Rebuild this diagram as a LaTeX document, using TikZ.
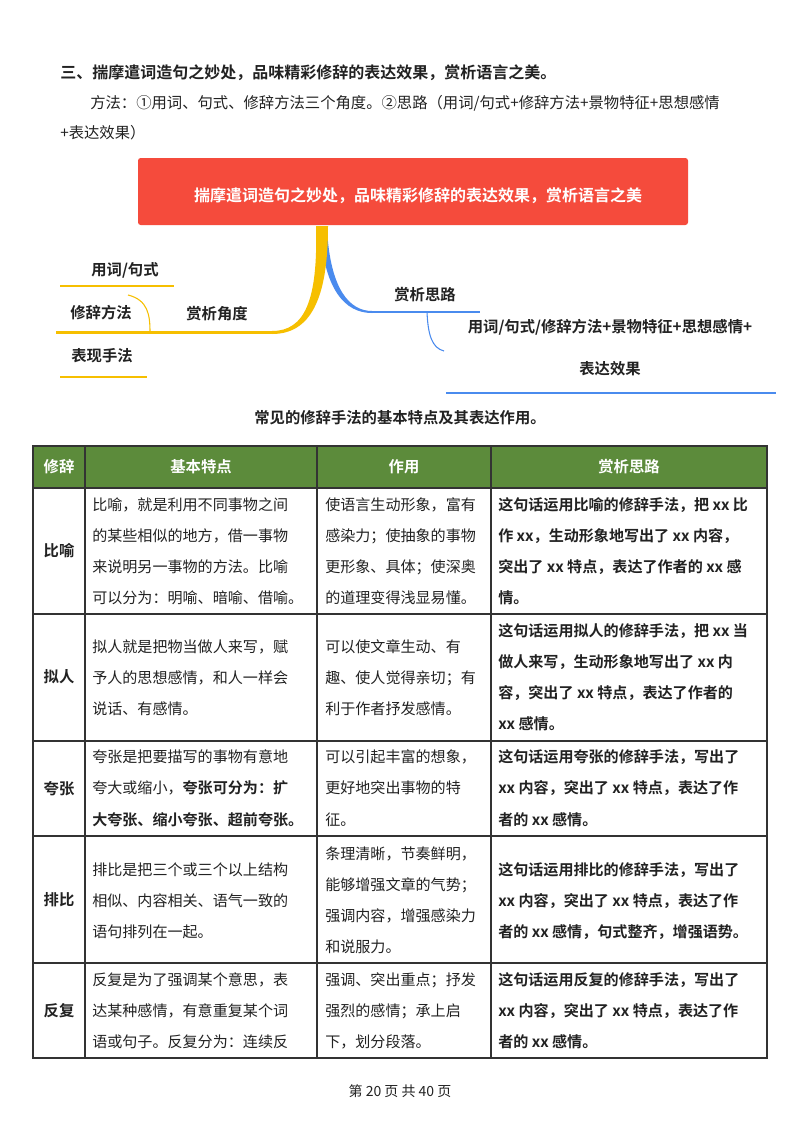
\documentclass[tikz,border=0pt]{standalone}
\usepackage{fontspec}
\setmainfont{Noto Sans CJK SC}[BoldFont={Noto Sans CJK SC Bold}]
\definecolor{mred}{HTML}{F54B3C}
\definecolor{myel}{HTML}{F6BF00}
\definecolor{mblue}{HTML}{4A8BEE}
\definecolor{hgreen}{HTML}{5C8B3B}
\definecolor{txt}{HTML}{222222}
\tikzset{
 lt/.style={anchor=west,inner sep=0pt,font=\fontsize{11.3}{12}\selectfont,text=txt},
 bt/.style={lt,font=\fontsize{11.3}{12}\selectfont\bfseries},
 mm/.style={inner sep=0pt,font=\fontsize{11.5}{12}\selectfont\bfseries,text=txt},
 hd/.style={inner sep=0pt,font=\fontsize{11.5}{12}\selectfont\bfseries,text=white},
 grid/.style={draw=black!80,line width=0.8pt},
}
\newcommand\Ln[4][lt]{\node[#1] (#2) at #3 {#4};}
\begin{document}
\begin{tikzpicture}[x=0.75pt,y=-0.75pt]
\useasboundingbox (0,0) rectangle (800,1132);
\fill[white] (0,0) rectangle (800,1132);
% top text
\node[bt,font=\fontsize{12}{12}\selectfont\bfseries] (h1) at (60,73) {三、揣摩遣词造句之妙处，品味精彩修辞的表达效果，赏析语言之美。};
\node[lt,font=\fontsize{11.5}{12}\selectfont] (h2) at (90,103) {方法：①用词、句式、修辞方法三个角度。②思路（用词/句式+修辞方法+景物特征+思想感情};
\node[lt,font=\fontsize{11.5}{12}\selectfont] (h3) at (60,133) {+表达效果）};
% mind map
\fill[mred,rounded corners=2pt] (138,158) rectangle (688,225);
\node[hd,font=\fontsize{12}{12}\selectfont\bfseries] (root) at (418,196) {揣摩遣词造句之妙处，品味精彩修辞的表达效果，赏析语言之美};
\fill[mblue] (320,228) .. controls (324,290) and (345,313) .. (372,313) -- (372,311) .. controls (350,311) and (330,290) .. (327,228) -- cycle;
\coordinate (b0) at (372,312); \coordinate (b1) at (480,312);
\draw[mblue,line width=1.5pt] (b0) -- (b1);
\node[mm] (sx) at (425,295) {赏析思路};
\coordinate (c0) at (427,312); \coordinate (c1) at (444,351);
\draw[mblue,line width=0.8pt] (c0) .. controls (428,335) and (432,348) .. (c1);
\node[mm] (sx1) at (610,327) {用词/句式/修辞方法+景物特征+思想感情+};
\node[mm] (sx2) at (610,369) {表达效果};
\draw[mblue,line width=1.5pt] (446,393) -- (776,393);
\fill[myel] (316,226) .. controls (318,300) and (305,331) .. (272,331) -- (272,334) .. controls (310,334) and (328,300) .. (328,226) -- cycle;
\coordinate (y0) at (273,332.5); \coordinate (y1) at (56,332.5);
\draw[myel,line width=2pt] (y0) -- (y1);
\node[mm] (jd) at (217,314) {赏析角度};
\node[mm] (y1t) at (125,270) {用词/句式};
\draw[myel,line width=2pt] (60,286) -- (174,286);
\node[mm] (y2t) at (101,313) {修辞方法};
\coordinate (k0) at (128,295); \coordinate (k1) at (150,332);
\draw[myel,line width=0.8pt] (k0) .. controls (148,300) and (150,315) .. (k1);
\node[mm] (y3t) at (102,356) {表现手法};
\draw[myel,line width=2pt] (60,377) -- (147,377);
% table title
\node[mm,font=\fontsize{11.5}{12}\selectfont\bfseries] (tt) at (400,418) {常见的修辞手法的基本特点及其表达作用。};
% table
\fill[hgreen] (33,446) rectangle (767,488);
\draw[grid] (33,446) rectangle (767,1058);
\foreach \yy in {488,614,741,836,963} \draw[grid] (33,\yy) -- (767,\yy);
\foreach \xx in {85,317,491} \draw[grid] (\xx,446) -- (\xx,1058);
\node[hd] (c1h) at (59,467) {修辞};
\node[hd] (c2h) at (201,467) {基本特点};
\node[hd] (c3h) at (404,467) {作用};
\node[hd] (c4h) at (629,467) {赏析思路};
\node[mm] (r1) at (59,551) {比喻};
\node[mm] (r2) at (59,677) {拟人};
\node[mm] (r3) at (59,789) {夸张};
\node[mm] (r4) at (59,900) {排比};
\node[mm] (r5) at (59,1011) {反复};
% row 1
\Ln{a11}{(92,505)}{比喻，就是利用不同事物之间}
\Ln{a12}{(92,536)}{的某些相似的地方，借一事物}
\Ln{a13}{(92,567)}{来说明另一事物的方法。比喻}
\Ln{a14}{(92,598)}{可以分为：明喻、暗喻、借喻。}
\Ln{b11}{(325,505)}{使语言生动形象，富有}
\Ln{b12}{(325,536)}{感染力；使抽象的事物}
\Ln{b13}{(325,567)}{更形象、具体；使深奥}
\Ln{b14}{(325,598)}{的道理变得浅显易懂。}
\Ln[bt]{c11}{(498,505)}{这句话运用比喻的修辞手法，把 xx 比}
\Ln[bt]{c12}{(498,536)}{作 xx，生动形象地写出了 xx 内容，}
\Ln[bt]{c13}{(498,567)}{突出了 xx 特点，表达了作者的 xx 感}
\Ln[bt]{c14}{(498,598)}{情。}
% row 2
\Ln{a21}{(92,647)}{拟人就是把物当做人来写，赋}
\Ln{a22}{(92,678)}{予人的思想感情，和人一样会}
\Ln{a23}{(92,709)}{说话、有感情。}
\Ln{b21}{(325,647)}{可以使文章生动、有}
\Ln{b22}{(325,678)}{趣、使人觉得亲切；有}
\Ln{b23}{(325,709)}{利于作者抒发感情。}
\Ln[bt]{c21}{(498,631)}{这句话运用拟人的修辞手法，把 xx 当}
\Ln[bt]{c22}{(498,662)}{做人来写，生动形象地写出了 xx 内}
\Ln[bt]{c23}{(498,693)}{容，突出了 xx 特点，表达了作者的}
\Ln[bt]{c24}{(498,724)}{xx 感情。}
% row 3
\Ln{a31}{(92,757)}{夸张是把要描写的事物有意地}
\Ln{a32}{(92,788)}{夸大或缩小，\textbf{夸张可分为：扩}}
\Ln[bt]{a33}{(92,820)}{大夸张、缩小夸张、超前夸张。}
\Ln{b31}{(325,757)}{可以引起丰富的想象，}
\Ln{b32}{(325,788)}{更好地突出事物的特}
\Ln{b33}{(325,820)}{征。}
\Ln[bt]{c31}{(498,757)}{这句话运用夸张的修辞手法，写出了}
\Ln[bt]{c32}{(498,788)}{xx 内容，突出了 xx 特点，表达了作}
\Ln[bt]{c33}{(498,820)}{者的 xx 感情。}
% row 4
\Ln{a41}{(92,870)}{排比是把三个或三个以上结构}
\Ln{a42}{(92,901)}{相似、内容相关、语气一致的}
\Ln{a43}{(92,932)}{语句排列在一起。}
\Ln{b41}{(325,854)}{条理清晰，节奏鲜明，}
\Ln{b42}{(325,885)}{能够增强文章的气势；}
\Ln{b43}{(325,916)}{强调内容，增强感染力}
\Ln{b44}{(325,947)}{和说服力。}
\Ln[bt]{c41}{(498,870)}{这句话运用排比的修辞手法，写出了}
\Ln[bt]{c42}{(498,901)}{xx 内容，突出了 xx 特点，表达了作}
\Ln[bt]{c43}{(498,932)}{者的 xx 感情，句式整齐，增强语势。}
% row 5
\Ln{a51}{(92,980)}{反复是为了强调某个意思，表}
\Ln{a52}{(92,1011)}{达某种感情，有意重复某个词}
\Ln{a53}{(92,1042)}{语或句子。反复分为：连续反}
\Ln{b51}{(325,980)}{强调、突出重点；抒发}
\Ln{b52}{(325,1011)}{强烈的感情；承上启}
\Ln{b53}{(325,1042)}{下，划分段落。}
\Ln[bt]{c51}{(498,980)}{这句话运用反复的修辞手法，写出了}
\Ln[bt]{c52}{(498,1011)}{xx 内容，突出了 xx 特点，表达了作}
\Ln[bt]{c53}{(498,1042)}{者的 xx 感情。}
% footer
\node[lt,anchor=center,font=\fontsize{10.5}{12}\selectfont] (ft) at (400,1091) {第 20 页 共 40 页};
\end{tikzpicture}
\end{document}
